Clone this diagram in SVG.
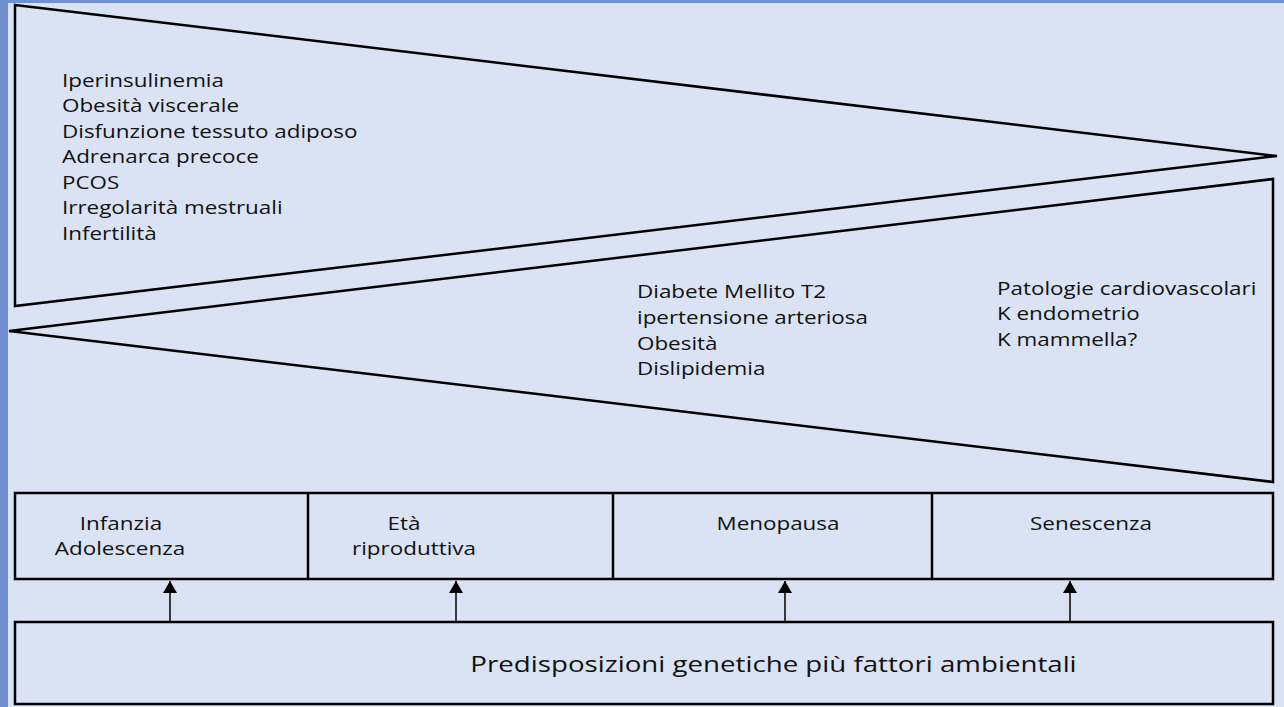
<svg xmlns="http://www.w3.org/2000/svg" width="1284" height="707" viewBox="0 0 1284 707">
<style>
.sh{fill:none;stroke:#000;stroke-width:2.5;stroke-linejoin:miter}
.t{font-family:"Open Sans","Liberation Sans",sans-serif;font-size:19px;fill:#111}
.c{text-anchor:middle}
.big{font-size:22.5px}
.con{stroke:#000;stroke-width:1.5;fill:none}
</style>
<defs>
<marker id="ah" markerWidth="12" markerHeight="14" refX="12" refY="7" orient="auto" markerUnits="userSpaceOnUse" viewBox="0 0 12 14">
<path d="M0,0 L12,7 L0,14 Z" fill="#000"/>
</marker>
</defs>
<rect x="0" y="0" width="1284" height="707" fill="#DAE3F3"/>
<rect x="0" y="0" width="1284" height="3" fill="#7090D0"/>
<rect x="0" y="0" width="8" height="707" fill="#7090D0"/>

<g id="top-wedge">
<polygon class="sh" points="15,5 1277,156 15,306"/>
<g transform="scale(1.18,1)">
<text class="t" x="52.54" y="87">Iperinsulinemia</text>
<text class="t" x="52.54" y="112.5">Obesità viscerale</text>
<text class="t" x="52.54" y="138">Disfunzione tessuto adiposo</text>
<text class="t" x="52.54" y="163.5">Adrenarca precoce</text>
<text class="t" x="52.54" y="189">PCOS</text>
<text class="t" x="52.54" y="214.5">Irregolarità mestruali</text>
<text class="t" x="52.54" y="240">Infertilità</text>
</g>
</g>

<g id="bottom-wedge">
<polygon class="sh" points="9,331 1273,179 1273,482"/>
<g transform="scale(1.18,1)">
<text class="t" x="539.83" y="298">Diabete Mellito T2</text>
<text class="t" x="539.83" y="324">ipertensione arteriosa</text>
<text class="t" x="539.83" y="350">Obesità</text>
<text class="t" x="539.83" y="375">Dislipidemia</text>
<text class="t" x="844.92" y="295">Patologie cardiovascolari</text>
<text class="t" x="844.92" y="320.5">K endometrio</text>
<text class="t" x="844.92" y="346">K mammella?</text>
</g>
</g>

<g id="stages">
<rect class="sh" x="15" y="493" width="1258" height="86"/>
<line class="sh" x1="308" y1="493" x2="308" y2="579"/>
<line class="sh" x1="613" y1="493" x2="613" y2="579"/>
<line class="sh" x1="932" y1="493" x2="932" y2="579"/>
</g>
<g id="stage-infanzia" transform="scale(1.18,1)">
<text class="t c" x="102.54" y="530">Infanzia</text>
<text class="t c" x="101.69" y="555">Adolescenza</text>
</g>
<g id="stage-eta" transform="scale(1.18,1)">
<text class="t c" x="342.37" y="530">Età</text>
<text class="t c" x="350.85" y="555">riproduttiva</text>
</g>
<g id="stage-menopausa" transform="scale(1.18,1)">
<text class="t c" x="659.32" y="530">Menopausa</text>
</g>
<g id="stage-senescenza" transform="scale(1.18,1)">
<text class="t c" x="924.58" y="530">Senescenza</text>
</g>

<g id="base">
<rect class="sh" x="15" y="622" width="1258" height="82"/>
<g transform="scale(1.23,1)">
<text class="t c big" x="628.86" y="672">Predisposizioni genetiche più fattori ambientali</text>
</g>
</g>

<g id="connectors">
<line class="con" x1="170" y1="621" x2="170" y2="581" marker-end="url(#ah)"/>
<line class="con" x1="456" y1="621" x2="456" y2="581" marker-end="url(#ah)"/>
<line class="con" x1="785" y1="621" x2="785" y2="581" marker-end="url(#ah)"/>
<line class="con" x1="1070" y1="621" x2="1070" y2="581" marker-end="url(#ah)"/>
</g>
</svg>
